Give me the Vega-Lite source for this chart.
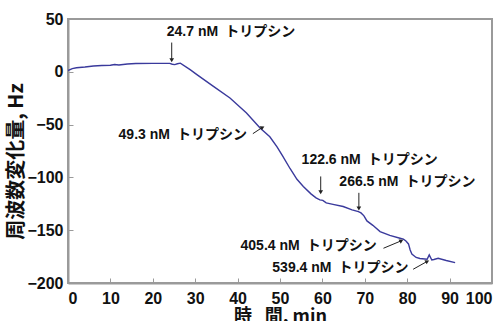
{
  "$schema": "https://vega.github.io/schema/vega-lite/v6.json",
  "width": 424,
  "height": 264,
  "autosize": {"type": "none"},
  "padding": {"left": 68, "top": 19, "right": 11, "bottom": 38},
  "background": "white",
  "config": {
    "view": {"stroke": "#9a9a9a", "strokeWidth": 2},
    "font": "Liberation Sans, Noto Sans CJK JP",
    "axis": {
      "grid": false,
      "domainColor": "#9a9a9a",
      "domainWidth": 2,
      "tickColor": "#9a9a9a",
      "tickWidth": 1,
      "tickSize": -5,
      "labelFont": "Liberation Sans",
      "labelFontSize": 16,
      "labelFontWeight": "bold",
      "labelColor": "#111",
      "titleFont": "Noto Sans CJK JP",
      "titleFontWeight": "bold",
      "titleColor": "#111"
    }
  },
  "datasets": {
    "series": [
      {"t": 0, "f": 1.2}, {"t": 1, "f": 3}, {"t": 2, "f": 3.8}, {"t": 4, "f": 4.5},
      {"t": 6, "f": 5.5}, {"t": 8, "f": 5.9}, {"t": 10, "f": 6.2}, {"t": 11, "f": 6.9},
      {"t": 12, "f": 6.5}, {"t": 14, "f": 7.4}, {"t": 16, "f": 7.9}, {"t": 20, "f": 8},
      {"t": 24, "f": 8}, {"t": 24.6, "f": 7.2}, {"t": 25.2, "f": 6.8}, {"t": 25.8, "f": 7.6},
      {"t": 26.5, "f": 8.2}, {"t": 28.8, "f": 2}, {"t": 30.4, "f": -2.7}, {"t": 34.3, "f": -13.8},
      {"t": 38.2, "f": -24.8}, {"t": 42.1, "f": -39}, {"t": 45.3, "f": -53.2}, {"t": 47.6, "f": -61.5},
      {"t": 49.3, "f": -71}, {"t": 50.5, "f": -79}, {"t": 52.4, "f": -91.8}, {"t": 54, "f": -101.8},
      {"t": 55.5, "f": -108.6}, {"t": 57.3, "f": -115.6}, {"t": 58.5, "f": -119.4}, {"t": 59.4, "f": -121.3},
      {"t": 60.1, "f": -121.7}, {"t": 60.9, "f": -124.1}, {"t": 62.5, "f": -125.5}, {"t": 64.9, "f": -127.6},
      {"t": 67, "f": -130.7}, {"t": 68.5, "f": -132.4}, {"t": 69.1, "f": -133.6}, {"t": 69.8, "f": -136.4},
      {"t": 70.5, "f": -141.2}, {"t": 71.9, "f": -145.4}, {"t": 73.6, "f": -151.3}, {"t": 75.9, "f": -154.9},
      {"t": 78.3, "f": -157.6}, {"t": 79.1, "f": -158.5}, {"t": 79.7, "f": -160.2}, {"t": 80.3, "f": -163},
      {"t": 80.7, "f": -168.7}, {"t": 81.1, "f": -172.5}, {"t": 82.1, "f": -175.8}, {"t": 83, "f": -176.8},
      {"t": 84.7, "f": -177.5}, {"t": 85.2, "f": -173.4}, {"t": 85.8, "f": -178.2}, {"t": 86.3, "f": -177.7},
      {"t": 87.3, "f": -176.6}, {"t": 89.2, "f": -178.7}, {"t": 91.3, "f": -180.7}
    ],
    "arrows": [
      {"kind": "down", "x1": 24.46, "y1": 27.7, "x2": 24.46, "y2": 11.6},
      {"kind": "diag", "x1": 43.6, "y1": -58.6, "x2": 45.75, "y2": -52.9},
      {"kind": "down", "x1": 59.6, "y1": -99.1, "x2": 59.6, "y2": -113.4},
      {"kind": "down", "x1": 68.6, "y1": -114.6, "x2": 68.6, "y2": -128.8},
      {"kind": "diag", "x1": 74.4, "y1": -167.1, "x2": 78.5, "y2": -160.2},
      {"kind": "diag", "x1": 81.4, "y1": -187, "x2": 84.6, "y2": -179.8}
    ],
    "labels": [
      {"side": "left", "x": 23.3, "y": 37.5, "label": "24.7 nM\u2002トリプシン"},
      {"side": "right", "x": 42.2, "y": -59.6, "label": "49.3 nM\u2002トリプシン"},
      {"side": "left", "x": 55.1, "y": -83.3, "label": "122.6 nM\u2002トリプシン"},
      {"side": "left", "x": 64.0, "y": -103.9, "label": "266.5 nM\u2002トリプシン"},
      {"side": "right", "x": 72.8, "y": -164.9, "label": "405.4 nM\u2002トリプシン"},
      {"side": "right", "x": 80.3, "y": -186.1, "label": "539.4 nM\u2002トリプシン"}
    ]
  },
  "layer": [
    {
      "data": {"name": "series"},
      "mark": {"type": "line", "color": "#3a3a9c", "strokeWidth": 1.4, "clip": true},
      "encoding": {
        "x": {
          "field": "t", "type": "quantitative",
          "scale": {"domain": [0, 100], "nice": false},
          "axis": {"values": [0, 10, 20, 30, 40, 50, 60, 70, 80, 90, 100], "labelPadding": 12,
                   "title": "時\u2002\u2009間, min", "titleFontSize": 18, "titleY": 24, "titleBaseline": "top"}
        },
        "y": {
          "field": "f", "type": "quantitative",
          "scale": {"domain": [-200, 50], "nice": false},
          "axis": {"values": [-200, -150, -100, -50, 0, 50], "labelPadding": 10,
                   "title": "周波数変化量, Hz", "titleFontSize": 20, "titleX": -52, "titleY": 142,
                   "titleBaseline": "middle"}
        }
      }
    },
    {
      "data": {"name": "arrows"},
      "mark": {"type": "rule", "color": "#222", "strokeWidth": 1},
      "encoding": {
        "x": {"field": "x1", "type": "quantitative"},
        "y": {"field": "y1", "type": "quantitative"},
        "x2": {"field": "x2"},
        "y2": {"field": "y2"}
      }
    },
    {
      "data": {"name": "arrows"},
      "transform": [{"filter": "datum.kind === 'down'"}],
      "mark": {"type": "point", "shape": "triangle", "angle": 180, "filled": true, "color": "#222", "size": 22, "opacity": 1},
      "encoding": {
        "x": {"field": "x2", "type": "quantitative"},
        "y": {"field": "y2", "type": "quantitative"}
      }
    },
    {
      "data": {"name": "arrows"},
      "transform": [{"filter": "datum.kind === 'diag'"}],
      "mark": {"type": "point", "shape": "triangle", "angle": 62, "filled": true, "color": "#222", "size": 22, "opacity": 1},
      "encoding": {
        "x": {"field": "x2", "type": "quantitative"},
        "y": {"field": "y2", "type": "quantitative"}
      }
    },
    {
      "data": {"name": "labels"},
      "transform": [{"filter": "datum.side === 'left'"}],
      "mark": {"type": "text", "align": "left", "baseline": "middle", "fontSize": 14, "fontWeight": "bold", "color": "#111"},
      "encoding": {
        "x": {"field": "x", "type": "quantitative"},
        "y": {"field": "y", "type": "quantitative"},
        "text": {"field": "label"}
      }
    },
    {
      "data": {"name": "labels"},
      "transform": [{"filter": "datum.side === 'right'"}],
      "mark": {"type": "text", "align": "right", "baseline": "middle", "fontSize": 14, "fontWeight": "bold", "color": "#111"},
      "encoding": {
        "x": {"field": "x", "type": "quantitative"},
        "y": {"field": "y", "type": "quantitative"},
        "text": {"field": "label"}
      }
    }
  ]
}
